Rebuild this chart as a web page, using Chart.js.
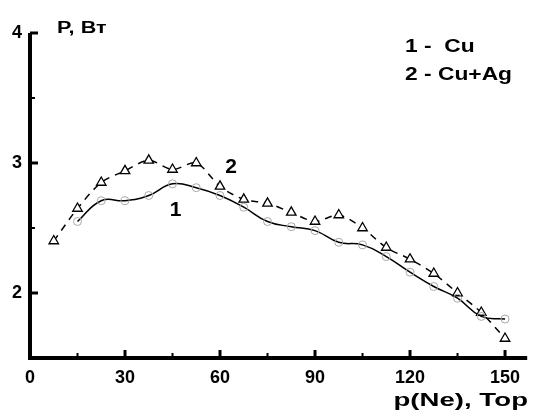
<!DOCTYPE html>
<html>
<head>
<meta charset="utf-8">
<script src="https://cdn.jsdelivr.net/npm/chart.js@4"></script>
<style>
  html, body { margin: 0; padding: 0; background: #fff; }
  #chart1 { display: block; }
</style>
</head>
<body>
<canvas id="chart1" width="534" height="412"></canvas>
<script>
// pressure p(Ne), Torr
const pCu = [15, 22.5, 30, 37.5, 45, 52.5, 60, 67.5, 75, 82.5, 90, 97.5, 105, 112.5, 120, 127.5, 135, 142.5, 150];
const powerCu = [2.55, 2.71, 2.71, 2.75, 2.84, 2.81, 2.75, 2.66, 2.55, 2.51, 2.48, 2.39, 2.37, 2.28, 2.16, 2.05, 1.96, 1.82, 1.80];
const pCuAg = [7.5, 15, 22.5, 30, 37.5, 45, 52.5, 60, 67.5, 75, 82.5, 90, 97.5, 105, 112.5, 120, 127.5, 135, 142.5, 150];
const powerCuAg = [2.40, 2.65, 2.85, 2.94, 3.02, 2.95, 3.00, 2.82, 2.72, 2.69, 2.62, 2.55, 2.60, 2.50, 2.35, 2.26, 2.15, 2.00, 1.85, 1.65];
const xTicks = [0, 30, 60, 90, 120, 150];
const xMinor = [15, 45, 75, 105, 135];
const yTicks = [2, 3, 4];
const yMinor = [2.5, 3.5];

const FONT = '"Liberation Sans", Arial, sans-serif';

const toPoints = (xs, ys) => xs.map((x, i) => ({ x: x, y: ys[i] }));

// draws text stretched horizontally, like the scanned original
function wideText(c, text, x, y, size, stretch, align) {
    c.save();
    c.font = 'bold ' + size + 'px ' + FONT;
    c.textBaseline = 'middle';
    c.textAlign = 'left';
    const w = c.measureText(text).width * stretch;
    const left = align === 'right' ? x - w : x;
    c.translate(left, y);
    c.scale(stretch, 1);
    c.fillText(text, 0, 0);
    c.restore();
}

// axis lines, inward tick marks + text labels
const decorations = {
    id: 'decorations',
    afterDraw(chart) {
        const c = chart.ctx;
        const xs = chart.scales.x, ys = chart.scales.y;
        const area = chart.chartArea;
        c.save();
        c.strokeStyle = '#000';
        c.lineCap = 'butt';

        c.lineWidth = 4;
        c.beginPath();
        c.moveTo(area.left, area.top);
        c.lineTo(area.left, area.bottom);
        c.lineTo(area.right, area.bottom);
        c.stroke();

        xTicks.forEach(v => {
            const px = xs.getPixelForValue(v);
            c.lineWidth = 3;
            c.beginPath(); c.moveTo(px, area.bottom); c.lineTo(px, area.bottom - 8); c.stroke();
        });
        xMinor.forEach(v => {
            const px = xs.getPixelForValue(v);
            c.lineWidth = 2;
            c.beginPath(); c.moveTo(px, area.bottom); c.lineTo(px, area.bottom - 5); c.stroke();
        });
        yTicks.forEach(v => {
            const py = ys.getPixelForValue(v);
            c.lineWidth = 3;
            c.beginPath(); c.moveTo(area.left, py); c.lineTo(area.left + 8, py); c.stroke();
        });
        yMinor.forEach(v => {
            const py = ys.getPixelForValue(v);
            c.lineWidth = 2;
            c.beginPath(); c.moveTo(area.left, py); c.lineTo(area.left + 5, py); c.stroke();
        });

        c.fillStyle = '#000';
        wideText(c, '1 -  Cu', 405, 47, 19, 1.2, 'left');
        wideText(c, '2 - Cu+Ag', 405, 75, 19, 1.2, 'left');
        wideText(c, 'P, Вт', 57, 29, 16, 1.35, 'left');
        wideText(c, 'p(Ne), Тор', 528, 401, 19, 1.45, 'right');

        // curve numbers
        c.textAlign = 'center';
        c.textBaseline = 'middle';
        c.font = 'bold 21px ' + FONT;
        c.fillText('1', xs.getPixelForValue(46), ys.getPixelForValue(2.64));
        c.fillText('2', xs.getPixelForValue(63.5), ys.getPixelForValue(2.97));
        c.restore();
    }
};

const ctx = document.getElementById('chart1').getContext('2d');
const chart1 = new Chart(ctx, {
    type: 'line',
    data: {
        datasets: [
            {
                label: 'Cu',
                data: toPoints(pCu, powerCu),
                borderColor: '#000',
                borderWidth: 1.5,
                tension: 0.45,
                pointStyle: 'circle',
                pointRadius: 4,
                pointBorderWidth: 1,
                pointBorderColor: '#a8a8a8',
                pointBackgroundColor: 'rgba(255,255,255,0)',
                fill: false
            },
            {
                label: 'Cu+Ag',
                data: toPoints(pCuAg, powerCuAg),
                borderColor: '#000',
                borderWidth: 1.5,
                borderDash: [7, 6],
                tension: 0.3,
                pointStyle: 'triangle',
                pointRadius: 5.5,
                pointBorderWidth: 1.3,
                pointBorderColor: '#000',
                pointBackgroundColor: '#fff',
                fill: false
            }
        ]
    },
    options: {
        responsive: false,
        animation: false,
        layout: { padding: { top: 33, right: 1, left: 0, bottom: 0 } },
        scales: {
            x: {
                type: 'linear',
                min: 0,
                max: 157,
                afterBuildTicks: s => { s.ticks = xTicks.map(v => ({ value: v })); },
                afterFit: s => { s.height = 54; },
                grid: { display: false, drawTicks: false },
                border: { display: false },
                ticks: {
                    color: '#000',
                    padding: 9,
                    maxRotation: 0,
                    font: { family: FONT, size: 18, weight: 'bold' }
                }
            },
            y: {
                min: 1.5,
                max: 4,
                afterBuildTicks: s => { s.ticks = yTicks.map(v => ({ value: v })); },
                afterFit: s => { s.width = 30; },
                grid: { display: false, drawTicks: false },
                border: { display: false },
                ticks: {
                    color: '#000',
                    padding: 8,
                    font: { family: FONT, size: 18, weight: 'bold' }
                }
            }
        },
        plugins: {
            legend: { display: false },
            tooltip: { enabled: false }
        }
    },
    plugins: [decorations]
});
</script>
</body>
</html>
